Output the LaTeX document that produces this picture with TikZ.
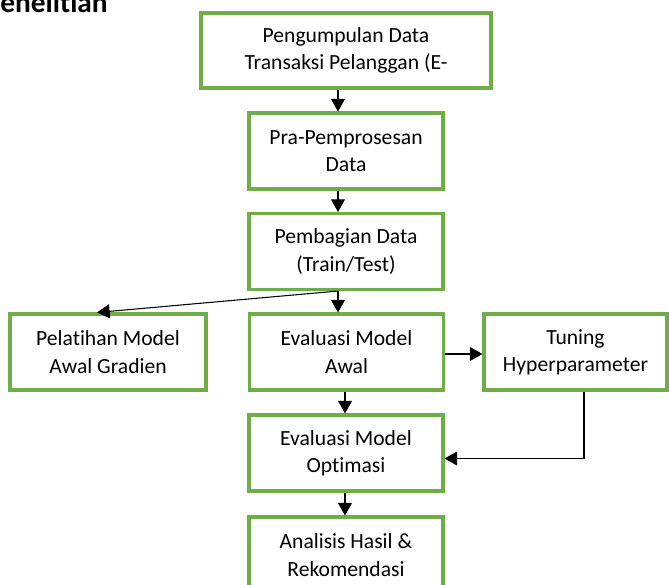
\documentclass[tikz,border=0pt]{standalone}
\usepackage{fontspec}
\setmainfont{Carlito}[Ligatures=NoCommon]
\usetikzlibrary{arrows.meta,calc}
\definecolor{boxgreen}{HTML}{70AD47}
\tikzset{
  box/.style={draw=boxgreen, line width=2.3pt, minimum width=145.5pt, minimum height=57pt,
    align=center, inner sep=0pt, font=\fontsize{16.2pt}{20.5pt}\selectfont},
  arr/.style={line width=0.8pt, -{Triangle[length=9.5pt,width=10.5pt]}},
  ln/.style={line width=0.8pt}
}
\begin{document}
\begin{tikzpicture}[x=0.75pt,y=-0.75pt]
\useasboundingbox (0,0) rectangle (669,585);
\node[anchor=base west, font=\fontsize{22pt}{26pt}\selectfont\bfseries, inner sep=0pt] (title) at (-15,13) {Penelitian};
\node[box, minimum width=217.5pt, minimum height=56.25pt] (b1) at (346,50.5) {Pengumpulan Data\\Transaksi Pelanggan (E-};
\node[box] (b2) at (346,151) {Pra-Pemprosesan\\Data};
\node[box] (b3) at (346,251.5) {Pembagian Data\\(Train/Test)};
\node[box, minimum width=147pt] (b4) at (108,352) {Pelatihan Model\\Awal Gradien};
\node[box] (b5) at (346.5,352) {Evaluasi Model\\Awal};
\node[box, minimum width=137.25pt] (b6) at (575.5,352) {Tuning\\Hyperparameter};
\node[box] (b7) at (346,453) {Evaluasi Model\\Optimasi};
\node[box] (b8) at (346,555) {Analisis Hasil \&\\Rekomendasi};
\coordinate (split) at ($(b3.south)+(-8,0)$);
\coordinate (corner) at ($(b6.south)+(8.5,67)$);
\draw[arr] ($(b1.south)+(-8,0)$) -- ($(b2.north)+(-8,0)$);
\draw[arr] ($(b2.south)+(-8,0)$) -- ($(b3.north)+(-8,0)$);
\draw[arr] (split) -- ($(b5.north)+(-8.5,0)$);
\draw[arr] (split) -- ($(b4.north)+(-11,0)$);
\draw[arr] ($(b5.south)+(-1.5,0)$) -- ($(b7.north)+(-1,0)$);
\draw[arr] ($(b7.south)+(-1,0)$) -- ($(b8.north)+(-1,0)$);
\draw[arr] ($(b5.east)+(0,2)$) -- ($(b6.west)+(0,2)$);
\draw[ln] ($(b6.south)+(8.5,0)$) -- (corner);
\draw[arr] (corner) -- (corner -| b7.east);
\end{tikzpicture}
\end{document}
